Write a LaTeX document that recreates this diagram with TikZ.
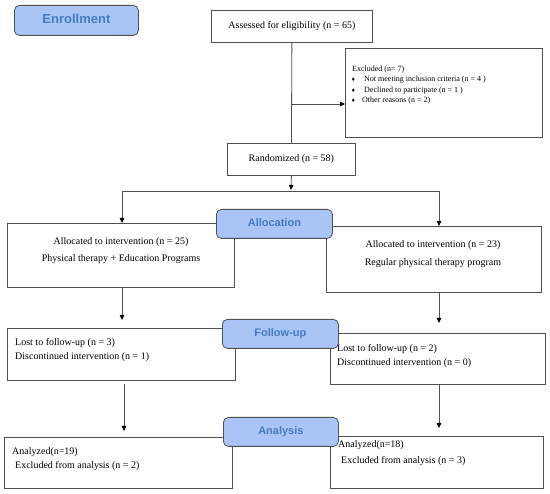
\documentclass[tikz,border=0pt]{standalone}
\usepackage{fontspec}
\setmainfont{Liberation Serif}
\newfontfamily\labfont{Liberation Sans}
\newfontfamily\symfont{DejaVu Sans}
\usetikzlibrary{arrows.meta}
\definecolor{labfill}{RGB}{169,197,248}
\definecolor{labtext}{RGB}{72,122,190}
\definecolor{linec}{RGB}{80,80,80}
\newcommand{\bul}[1]{\makebox[#1][l]{\symfont\fontsize{5}{5}\selectfont ♦}}
\tikzset{
 box/.style={draw=linec, line width=0.8pt, rectangle, anchor=north west, inner sep=0pt, font=\fontsize{10}{12}\selectfont},
 lab/.style={draw=linec, fill=labfill, rounded corners=5pt, line width=0.8pt, anchor=north west, inner sep=0pt, font=\labfont\bfseries\fontsize{11}{13}\selectfont, text=labtext},
 txt/.style={inner sep=0pt, font=\fontsize{10}{12}\selectfont},
 ltxt/.style={txt, anchor=west},
 small/.style={inner sep=0pt, font=\fontsize{8}{10}\selectfont, anchor=west},
 arr/.style={draw=linec, line width=0.8pt, -{Triangle[length=5pt,width=4.5pt,color=black]}},
 con/.style={draw=linec, line width=0.8pt}
}
\begin{document}
\begin{tikzpicture}[x=1pt,y=-1pt]
\useasboundingbox (0,0) rectangle (550,494);
% boxes
\node[box, minimum width=161pt, minimum height=32pt] (assess) at (211,10) {Assessed for eligibility (n = 65)};
\node[box, minimum width=197pt, minimum height=89pt] (excl) at (345,48) {};
\node[box, minimum width=128pt, minimum height=32pt] (rand) at (227,143) {Randomized (n = 58)};
\node[box, minimum width=227pt, minimum height=64pt] (la) at (7,223) {};
\node[box, minimum width=215pt, minimum height=66pt] (ra) at (326,226) {};
\node[box, minimum width=228pt, minimum height=52pt] (lf) at (7,328) {};
\node[box, minimum width=215pt, minimum height=51pt] (rf) at (330,333) {};
\node[box, minimum width=228pt, minimum height=51pt] (lan) at (4,437) {};
\node[box, minimum width=213pt, minimum height=52pt] (ran) at (330,436) {};
% texts
\node[small] (ex1) at (352,70) {Excluded (n= 7)};
\node[small] (ex2) at (351,80) {\bul{13pt}Not meeting inclusion criteria (n = 4 )};
\node[small] (ex3) at (351,90.5) {\bul{13pt}Declined to participate (n = 1 )};
\node[small] (ex4) at (351,100.5) {\bul{11pt}Other reasons (n = 2)};
\node[txt] (la1) at (121,242) {Allocated to intervention (n = 25)};
\node[txt] (la2) at (121,259) {Physical therapy + Education Programs};
\node[txt] (ra1) at (433,245) {Allocated to intervention (n = 23)};
\node[txt] (ra2) at (433,263) {Regular physical therapy program};
\node[ltxt] (lf1) at (15,343) {Lost to follow-up (n = 3)};
\node[ltxt] (lf2) at (15,357) {Discontinued intervention (n = 1)};
\node[ltxt] (rf1) at (337,349) {Lost to follow-up (n = 2)};
\node[ltxt] (rf2) at (337,363) {Discontinued intervention (n = 0)};
\node[ltxt] (lan1) at (12,452) {Analyzed(n=19)};
\node[ltxt] (lan2) at (15,466) {Excluded from analysis (n = 2)};
\node[ltxt] (ran1) at (338,445) {Analyzed(n=18)};
\node[ltxt] (ran2) at (341,461) {Excluded from analysis (n = 3)};
% connectors
\coordinate (exb) at (291,104);
\coordinate (split) at (291,190);
\coordinate (hl) at (122,191);
\coordinate (hr) at (439,191);
\coordinate (cl2) at (124,0);
\draw[con] (assess.south) -- (rand.north);
\draw[arr] (exb) -- (exb -| excl.west);
\draw[arr] (rand.south) -- (split);
\draw[con] (hl) -- (hr);
\draw[arr] (hl) -- (hl |- la.north);
\draw[arr] (hr) -- (hr |- ra.north);
\draw[arr, shorten >=8pt] (hl |- la.south) -- (hl |- lf.north);
\draw[arr, shorten >=10pt] (hr |- ra.south) -- (hr |- rf.north);
\draw[arr, shorten <=3pt, shorten >=6pt] (cl2 |- lf.south) -- (cl2 |- lan.north);
\draw[arr, shorten >=8pt] (hr |- rf.south) -- (hr |- ran.north);
% stage labels
\node[lab, minimum width=124pt, minimum height=30pt, font=\labfont\bfseries\fontsize{13}{15}\selectfont] (enroll) at (14,5) {\raisebox{3pt}{Enrollment}};
\node[lab, minimum width=116pt, minimum height=29pt] (alloc) at (216,209) {\raisebox{2pt}{Allocation}};
\node[lab, minimum width=116pt, minimum height=29pt] (follow) at (222,319) {\raisebox{2pt}{Follow-up}};
\node[lab, minimum width=115pt, minimum height=29pt] (anal) at (223,417) {\raisebox{2pt}{Analysis}};
\end{tikzpicture}
\end{document}
